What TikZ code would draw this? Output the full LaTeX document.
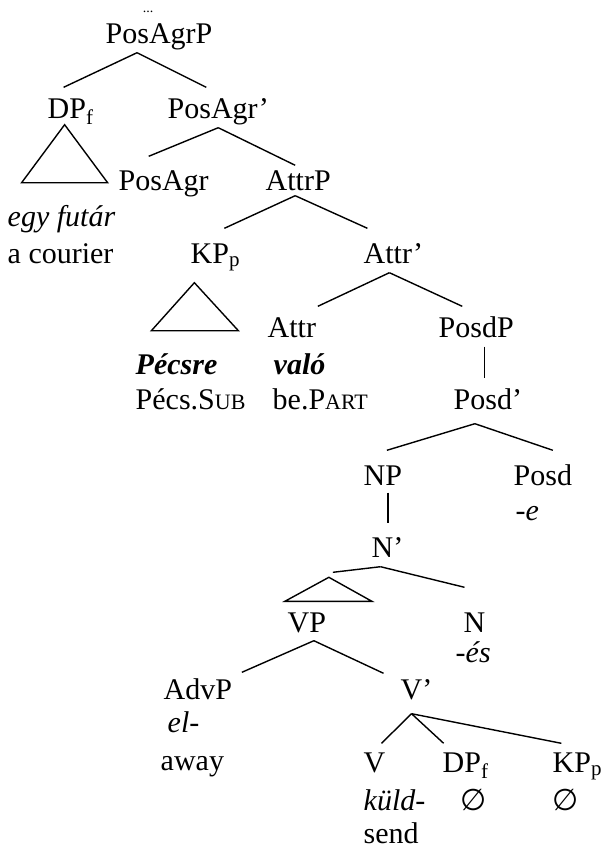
\documentclass[tikz,border=0pt]{standalone}
\usepackage{fontspec}
\setmainfont{Liberation Serif}
\newfontfamily\symfam{DejaVu Sans}
\usetikzlibrary{calc}
\newcommand{\smcp}[1]{{\fontsize{22}{26}\selectfont #1}}
\tikzset{
  cat/.style={anchor=base west, inner xsep=0pt, inner ysep=9pt, text height=21pt, text depth=0pt},
  gloss/.style={anchor=base west, inner sep=0pt},
}

\begin{document}
\begin{tikzpicture}[x=1pt, y=-1pt, line width=1.4pt, font=\fontsize{30}{34}\selectfont]
    \useasboundingbox (0,0) rectangle (603,852);
    % upper part
    \node[gloss, anchor=base, font=\fontsize{14}{16}\selectfont] (dots) at (148,12) {...};
    \node[cat] (posagrp) at (105,43) {PosAgrP};
    \node[cat] (dpf) at (47,118) {DP\textsubscript{f}};
    \node[cat] (posagrbar) at (167,118) {PosAgr'};
    \node[cat] (posagr) at (118,190) {PosAgr};
    \node[cat] (attrp) at (265,190) {AttrP};
    \node[gloss] (egyfutar) at (7,226) {\textit{egy futár}};
    \node[gloss] (courier) at (7,263) {a courier};
    \node[cat] (kpp) at (190,263) {KP\textsubscript{p}};
    \node[cat] (attrbar) at (363,263) {Attr'};
    \node[cat] (attr) at (267,337) {Attr};
    \node[cat] (posdp) at (438,337) {PosdP};
    \node[gloss] (pecsre) at (135,374) {\textbf{\textit{Pécsre}}};
    \node[gloss] (valo) at (273,374) {\textbf{\textit{való}}};
    \node[gloss] (pecssub) at (135,409) {Pécs.S\smcp{UB}};
    \node[gloss] (bepart) at (272,409) {be.P\smcp{ART}};
    \node[cat] (posdbar) at (453,409) {Posd'};
    % lower part
    \node[cat] (np) at (363,485) {NP};
    \node[cat] (posd) at (513,485) {Posd};
    \node[gloss] (suffe) at (515,520) {\textit{-e}};
    \node[cat] (nbar) at (371,557) {N'};
    \node[cat] (vp) at (287,632) {VP};
    \node[cat] (n) at (463,632) {N};
    \node[gloss] (suffes) at (455,662) {\textit{-és}};
    \node[cat] (advp) at (163,699) {AdvP};
    \node[cat] (vbar) at (400,699) {V'};
    \node[gloss] (el) at (167,732) {\textit{el-}};
    \node[gloss] (away) at (160,770) {away};
    \node[cat] (v) at (363,772) {V};
    \node[cat] (dpfb) at (442,772) {DP\textsubscript{f}};
    \node[cat] (kppb) at (552,772) {KP\textsubscript{p}};
    \node[gloss] (kuld) at (363,810) {\textit{küld-}};
    \node[gloss] (emptyd) at (460,810) {\symfam ∅};
    \node[gloss] (emptyk) at (552,810) {\symfam ∅};
    \node[gloss] (send) at (363,843) {send};

    % branches
    \draw ($(posagrp.south)+(-22,0)$) -- ($(dpf.north)+(-7,0)$);
    \draw ($(posagrp.south)+(-22,0)$) -- ($(posagrbar.north)+(-12,0)$);
    \draw ($(dpf.south)+(-6,-3)$) -- ++(-43,58) -- ++(86,0) -- cycle;
    \draw (posagrbar.south) -- ($(posagr.north)+(-15,-3)$);
    \draw (posagrbar.south) -- ($(attrp.north)+(-3,6)$);
    \draw ($(attrp.south)+(-3,-4)$) -- ($(kpp.north)+(9,-4)$);
    \draw ($(attrp.south)+(-3,-4)$) -- ($(attrbar.north)+(-26,-4)$);
    \draw ($(kpp.south)+(-21,10)$) -- ++(-43,48) -- ++(87,0) -- cycle;
    \draw ($(attrbar.south)+(-4,0)$) -- ($(attr.north)+(26,0)$);
    \draw ($(attrbar.south)+(-4,0)$) -- ($(posdp.north)+(-14,0)$);
    \coordinate (pdfoot) at ($(posdp.south)+(8,0)$);
    \draw (pdfoot) -- (pdfoot |- posdbar.north);
    \draw ($(posdbar.south)+(-13,5)$) -- ($(np.north)+(4,-4)$);
    \draw ($(posdbar.south)+(-13,5)$) -- ($(posd.north)+(10,-4)$);
    \coordinate (npfoot) at ($(np.south)+(5,-2)$);
    \draw (npfoot) -- ($(npfoot |- nbar.north)+(0,-3)$);
    \coordinate (vptop) at ($(vp.north)+(22,-24)$);
    \draw (vptop) -- ++(-44,24) -- ++(87,0) -- cycle;
    \draw ($(nbar.south)+(-7,0)$) -- ($(vptop)+(4,-5)$);
    \draw ($(nbar.south)+(-7,0)$) -- ($(n.north)+(-10,-14)$);
    \draw ($(vp.south)+(7,-1)$) -- ($(advp.north)+(44,4)$);
    \draw ($(vp.south)+(7,-1)$) -- ($(vbar.north)+(-33,5)$);
    \draw ($(vbar.south)+(-5,5)$) -- ($(v.north)+(7,2)$);
    \draw ($(vbar.south)+(-5,5)$) -- ($(dpfb.north)+(-22,2)$);
    \draw ($(vbar.south)+(-5,5)$) -- ($(kppb.north)+(-16,2)$);
\end{tikzpicture}
\end{document}
